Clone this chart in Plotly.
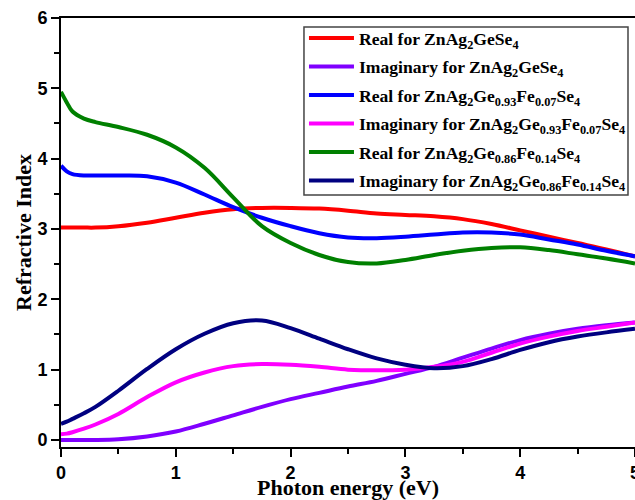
import plotly.graph_objects as go

energy = [0, 0.05, 0.1, 0.2, 0.3, 0.5, 0.75, 1.0, 1.25, 1.5, 1.75, 2.0, 2.25, 2.5,
          2.75, 3.0, 3.25, 3.5, 3.75, 4.0, 4.25, 4.5, 4.75, 5.0]

real_pure = [3.02, 3.02, 3.02, 3.02, 3.02, 3.04, 3.09, 3.16, 3.23, 3.28, 3.30, 3.30,
             3.29, 3.26, 3.22, 3.20, 3.18, 3.14, 3.07, 2.98, 2.89, 2.80, 2.71, 2.61]
imag_pure = [0.0, 0.0, 0.0, 0.0, 0.0, 0.01, 0.05, 0.12, 0.23, 0.35, 0.47, 0.58,
             0.67, 0.76, 0.84, 0.94, 1.04, 1.17, 1.30, 1.42, 1.51, 1.58, 1.63, 1.67]
real_fe007 = [3.90, 3.82, 3.78, 3.76, 3.76, 3.76, 3.75, 3.66, 3.49, 3.31, 3.16, 3.04,
              2.94, 2.88, 2.87, 2.89, 2.92, 2.95, 2.95, 2.92, 2.85, 2.78, 2.69, 2.61]
imag_fe007 = [0.08, 0.09, 0.11, 0.16, 0.22, 0.37, 0.61, 0.82, 0.96, 1.05, 1.08, 1.07,
              1.04, 1.00, 0.99, 1.00, 1.04, 1.11, 1.24, 1.37, 1.47, 1.55, 1.61, 1.67]
real_fe014 = [4.95, 4.80, 4.67, 4.57, 4.52, 4.45, 4.34, 4.16, 3.87, 3.45, 3.04, 2.80,
              2.63, 2.53, 2.51, 2.56, 2.63, 2.69, 2.73, 2.74, 2.70, 2.64, 2.58, 2.51]
imag_fe014 = [0.23, 0.26, 0.30, 0.38, 0.47, 0.70, 1.01, 1.29, 1.51, 1.66, 1.70, 1.59,
              1.44, 1.29, 1.16, 1.07, 1.02, 1.05, 1.15, 1.28, 1.39, 1.47, 1.53, 1.58]

names = [
    "Real for ZnAg<sub>2</sub>GeSe<sub>4</sub>",
    "Imaginary for ZnAg<sub>2</sub>GeSe<sub>4</sub>",
    "Real for ZnAg<sub>2</sub>Ge<sub>0.93</sub>Fe<sub>0.07</sub>Se<sub>4</sub>",
    "Imaginary for ZnAg<sub>2</sub>Ge<sub>0.93</sub>Fe<sub>0.07</sub>Se<sub>4</sub>",
    "Real for ZnAg<sub>2</sub>Ge<sub>0.86</sub>Fe<sub>0.14</sub>Se<sub>4</sub>",
    "Imaginary for ZnAg<sub>2</sub>Ge<sub>0.86</sub>Fe<sub>0.14</sub>Se<sub>4</sub>",
]
series = [real_pure, imag_pure, real_fe007, imag_fe007, real_fe014, imag_fe014]
colors = ["#FF0000", "#8000FF", "#0000FF", "#FF00FF", "#008000", "#000080"]

fig = go.Figure()
for i, (nm, ys, c) in enumerate(zip(names, series, colors)):
    fig.add_trace(go.Scatter(
        x=energy, y=ys, name=nm, mode="lines",
        line=dict(color=c, width=4, shape="spline", smoothing=1.0),
        legendgroup=f"g{i}",
    ))

axis_font = dict(family="Liberation Sans", size=18, color="black", weight="bold")
title_font = dict(family="Liberation Serif", size=22, color="black", weight="bold")

# legend frame (paper coordinates)
fig.add_shape(type="rect", xref="paper", yref="paper",
              x0=0.4233, x1=0.9878, y0=0.5874, y1=0.979,
              line=dict(color="#444444", width=1.5), fillcolor="white", layer="below")

fig.update_layout(
    width=635, height=500,
    margin=dict(l=61, r=0, t=18, b=53),
    paper_bgcolor="white", plot_bgcolor="white",
    showlegend=True,
    legend=dict(
        x=0.4233, y=0.995, xanchor="left", yanchor="top",
        bgcolor="rgba(255,255,255,0)", borderwidth=0,
        font=dict(family="Liberation Serif", size=17.6, color="black", weight="bold"),
        itemwidth=45, tracegroupgap=2.6,
    ),
    xaxis=dict(
        range=[0, 5], dtick=1, tick0=0,
        showgrid=False, zeroline=False,
        showline=True, linecolor="black", linewidth=2, mirror=True,
        ticks="outside", ticklen=8, tickwidth=2, tickcolor="black",
        tickfont=axis_font, ticklabeloverflow="allow",
        minor=dict(ticks="outside", dtick=0.5, ticklen=5, tickwidth=2, tickcolor="black"),
        title=dict(text="Photon energy (eV)", font=title_font, standoff=8),
        automargin=False,
    ),
    yaxis=dict(
        range=[-0.1, 6], dtick=1, tick0=0,
        showgrid=False, zeroline=False,
        showline=True, linecolor="black", linewidth=2,
        ticks="outside", ticklen=8, tickwidth=2, tickcolor="black",
        tickfont=axis_font,
        minor=dict(ticks="outside", dtick=0.5, ticklen=5, tickwidth=2, tickcolor="black"),
        title=dict(text="Refractive Index", font=title_font, standoff=0),
        automargin=False,
    ),
)

fig.write_html("out.html")
